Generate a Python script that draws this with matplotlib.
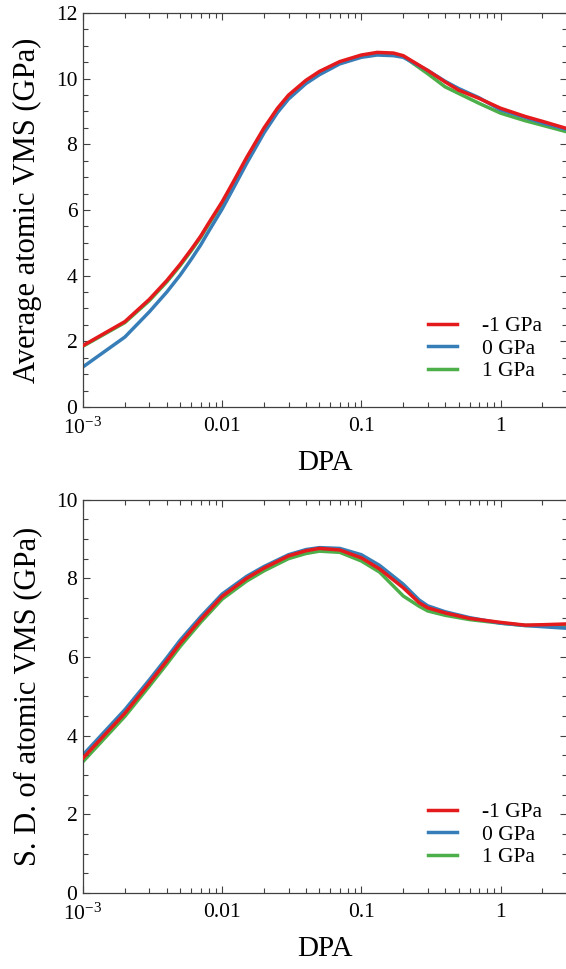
import matplotlib.pyplot as plt
from matplotlib.ticker import FixedLocator, FixedFormatter, MultipleLocator, LogLocator, NullFormatter

plt.rcParams['font.family'] = ['Liberation Serif']
plt.rcParams['mathtext.fontset'] = 'custom'
plt.rcParams['mathtext.rm'] = 'Liberation Serif'
plt.rcParams['mathtext.it'] = 'Liberation Serif:italic'

# average von Mises stress vs dose
dpa_avg = [0.001, 0.002, 0.003, 0.004, 0.005, 0.006, 0.007, 0.008, 0.01, 0.012, 0.015, 0.02, 0.025,
           0.03, 0.04, 0.05, 0.07, 0.1, 0.13, 0.17, 0.2, 0.3, 0.4, 0.5, 0.7, 1.0, 1.5, 2.0, 3.0]
avg_m1 = [1.87, 2.6, 3.28, 3.85, 4.35, 4.8, 5.2, 5.6, 6.25, 6.85, 7.6, 8.5, 9.1,
          9.5, 9.95, 10.22, 10.52, 10.72, 10.8, 10.78, 10.7, 10.25, 9.9, 9.65, 9.4, 9.1, 8.85, 8.7, 8.48]
avg_0 = [1.22, 2.13, 2.9, 3.5, 4.02, 4.5, 4.93, 5.35, 6.03, 6.65, 7.42, 8.35, 8.97,
         9.38, 9.85, 10.12, 10.45, 10.65, 10.72, 10.7, 10.65, 10.25, 9.92, 9.7, 9.42, 9.05, 8.82, 8.65, 8.45]
avg_p1 = [1.85, 2.57, 3.24, 3.81, 4.31, 4.76, 5.16, 5.56, 6.2, 6.8, 7.55, 8.45, 9.05,
          9.46, 9.92, 10.19, 10.49, 10.69, 10.76, 10.75, 10.68, 10.15, 9.75, 9.55, 9.25, 8.95, 8.72, 8.58, 8.38]

# standard deviation of von Mises stress vs dose
dpa_sd = [0.001, 0.002, 0.003, 0.004, 0.005, 0.007, 0.01, 0.015, 0.02, 0.03, 0.04, 0.05,
          0.07, 0.1, 0.135, 0.2, 0.26, 0.3, 0.4, 0.6, 1.0, 1.5, 2.0, 3.0]
sd_m1 = [3.43, 4.57, 5.34, 5.9, 6.35, 6.95, 7.54, 8.0, 8.26, 8.57, 8.7, 8.76,
         8.72, 8.52, 8.24, 7.76, 7.38, 7.25, 7.12, 6.98, 6.88, 6.81, 6.82, 6.84]
sd_0 = [3.51, 4.66, 5.42, 5.98, 6.43, 7.02, 7.6, 8.05, 8.3, 8.6, 8.73, 8.78,
        8.76, 8.6, 8.33, 7.85, 7.45, 7.3, 7.15, 7.0, 6.86, 6.8, 6.77, 6.73]
sd_p1 = [3.34, 4.49, 5.26, 5.82, 6.27, 6.88, 7.47, 7.93, 8.19, 8.5, 8.63, 8.69,
         8.66, 8.44, 8.16, 7.55, 7.29, 7.17, 7.06, 6.95, 6.86, 6.8, 6.8, 6.8]

labels = ['-1 GPa', '0 GPa', '1 GPa']
colors = ['#e41a1c', '#377eb8', '#4daf4a']

fig = plt.figure(figsize=(5.66, 9.69), dpi=100)
ax1 = fig.add_axes([0.1466, 0.580, 0.855, 0.4066])
ax2 = fig.add_axes([0.1466, 0.0784, 0.855, 0.406])

panels = [
    (ax1, dpa_avg, [avg_m1, avg_0, avg_p1], 12, 'Average atomic VMS (GPa)'),
    (ax2, dpa_sd, [sd_m1, sd_0, sd_p1], 10, 'S. D. of atomic VMS (GPa)'),
]

for ax, x, series, ymax, ylabel in panels:
    for ys, lab, c, z in zip(series, labels, colors, [3, 2, 1]):
        ax.plot(x, ys, color=c, lw=2.5, label=lab, zorder=z)
    ax.set_xscale('log')
    ax.set_xlim(1e-3, 3)
    ax.set_ylim(0, ymax)
    ax.xaxis.set_major_locator(FixedLocator([1e-3, 1e-2, 1e-1, 1]))
    ax.xaxis.set_major_formatter(FixedFormatter(['$10^{-3}$', '0.01', '0.1', '1']))
    ax.xaxis.set_minor_locator(LogLocator(base=10, subs=range(2, 10)))
    ax.xaxis.set_minor_formatter(NullFormatter())
    ax.yaxis.set_major_locator(MultipleLocator(2))
    ax.yaxis.set_minor_locator(MultipleLocator(0.5))
    ax.tick_params(which='both', direction='in', top=True, right=True,
                   labelsize=15.5, color='#404040', width=0.8)
    ax.tick_params(which='major', length=5, pad=4)
    ax.tick_params(which='minor', length=3.5)
    ax.tick_params(axis='x', which='major', pad=7.5)
    for sp in ax.spines.values():
        sp.set_color('#404040')
        sp.set_linewidth(0.9)
    ax.set_xlabel('DPA', fontsize=21, labelpad=8)
    ax.set_ylabel(ylabel, fontsize=22, labelpad=10)
    ax.legend(loc='lower left', bbox_to_anchor=(0.713, 0.065), frameon=False,
              fontsize=15.5, handlelength=1.35, handletextpad=1.15, labelspacing=0.12,
              borderpad=0, borderaxespad=0)

fig.savefig('out.png', dpi=100)
